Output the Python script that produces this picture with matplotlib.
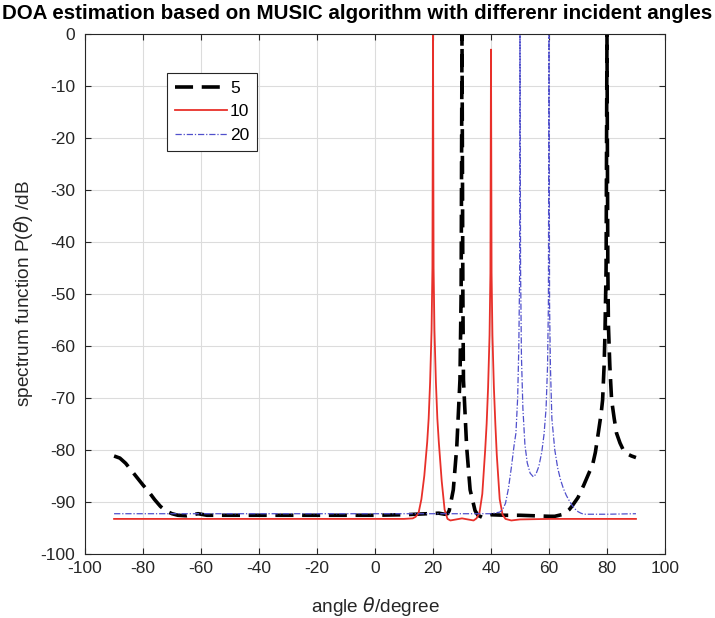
import matplotlib.pyplot as plt

plt.rcParams['font.family'] = ['Liberation Sans', 'DejaVu Sans']
plt.rcParams['mathtext.fontset'] = 'dejavusans'
plt.rcParams['axes.unicode_minus'] = False

# spectrum (angle in degree, P in dB)
ang5 = [-90, -88, -86, -84, -82, -80, -78, -76, -74, -72, -70, -68, -65, -61, -58,
        -40, -20, 0, 10, 18, 22, 24, 25, 25.6, 27, 28.2, 29.3, 29.7, 30, 30.3, 30.5,
        31.6, 32.8, 34.5, 35.5, 37, 40, 45, 50, 55, 60, 62, 65, 67, 68, 70, 72, 74, 75,
        76, 77, 78, 78.5, 79, 79.3, 79.7, 80, 80.3, 80.5, 81, 81.6, 82.5, 83.3, 84.5,
        85.6, 87, 88.5, 90]
db5 = [-81.2, -81.6, -82.6, -84.0, -85.4, -86.8, -88.1, -89.6, -90.9, -91.8, -92.3, -92.6, -92.7, -92.3, -92.6,
       -92.6, -92.6, -92.6, -92.5, -92.3, -92.2, -92.4, -92.3, -91.7, -87.7, -79.4, -66.5, -50, 0, -50, -66.5,
       -79.4, -87.7, -91.7, -92.6, -93.0, -92.5, -92.6, -92.6, -92.7, -92.8, -92.8, -92.4, -91.5, -90.8, -89.2, -86.8, -84.2, -83.0,
       -80.5, -76.8, -73, -70.4, -64, -58, -45, 0, -45, -56, -64, -70.4, -74, -76.8, -78.7,
       -80.0, -80.8, -81.2, -81.5]

ang10 = [-90, -60, -30, 0, 10, 13, 14, 15, 16, 17, 18, 18.5, 19, 19.5, 19.8, 20, 20.2,
         20.5, 21, 21.5, 22, 23, 24, 25, 26, 28, 30, 32, 34, 35, 36, 37, 38, 38.5, 39,
         39.5, 39.8, 40, 40.2, 40.5, 41, 41.5, 42, 43, 44, 45, 47, 50, 60, 90]
db10 = [-93.3, -93.3, -93.3, -93.3, -93.3, -93.2, -92.9, -92.2, -89.5, -85, -78.5, -74, -67, -57, -45, 0, -45,
        -57, -67, -74, -78.5, -86, -91.5, -93.3, -93.6, -93.4, -93.2, -93.4, -93.6, -93.2, -92.2, -88.5, -80, -75, -68,
        -58, -46, -3, -46, -58, -68, -75, -81, -89.5, -92.5, -93.3, -93.6, -93.4, -93.3, -93.3]

ang20 = [-90, -60, -30, 0, 20, 40, 43, 44, 45, 46, 47, 48, 48.6, 49.2, 49.6, 49.9, 50,
         50.2, 50.5, 51, 51.7, 52.5, 53.5, 54.6, 55.5, 56.5, 57.5, 58.3, 59, 59.5, 59.8,
         60, 60.2, 60.5, 61, 62, 63, 64, 65, 66, 67, 68, 69, 70, 71, 72, 80, 90]
db20 = [-92.3, -92.3, -92.3, -92.3, -92.3, -92.3, -92.0, -91.5, -90.3, -87.5, -83.5, -79, -76.8, -70, -60, -45, 0,
        -45, -62, -72, -79, -82.5, -84.5, -85.2, -84.7, -83.2, -80.5, -77, -72, -64, -52,
        0, -52, -64, -74, -80, -83.5, -85.8, -87.5, -88.8, -89.8, -90.7, -91.4, -91.9, -92.2, -92.4, -92.4, -92.3]

fig = plt.figure(figsize=(7.15, 6.18), dpi=100)
ax = fig.add_axes([0.119, 0.104, 0.811, 0.841])

ax.plot(ang5, db5, color='black', linestyle=(0, (5, 2.4)), linewidth=2.6, label='5')
ax.plot(ang10, db10, color='#e8302a', linestyle='-', linewidth=1.3, label='10')
ax.plot(ang20, db20, color='#5050cc', linestyle=(0, (5, 1.5, 1, 1.5)), linewidth=0.9, label='20')

ax.set_xlim(-100, 100)
ax.set_ylim(-100, 0)
ax.set_xticks(range(-100, 101, 20))
ax.set_yticks(range(-100, 1, 10))
ax.grid(True, color='#dcdcdc', linewidth=0.8)
ax.set_axisbelow(True)
ax.tick_params(direction='in', top=True, right=True, labelsize=12.5, colors='#262626', length=4)
ax.tick_params(axis='x', pad=5)
ax.tick_params(axis='y', pad=7)
for s in ax.spines.values():
    s.set_color('#262626')
    s.set_linewidth(0.8)

ax.set_xlabel(r'angle $\theta$/degree', fontsize=13.7, color='#262626', labelpad=14)
ax.set_ylabel(r'spectrum function P($\theta$) /dB', fontsize=13.7, color='#262626', labelpad=4)
fig.text(0.5, 0.978, 'DOA estimation based on MUSIC algorithm with differenr incident angles',
         ha='center', va='center', fontsize=14.8, fontweight='bold')

leg = ax.legend(loc='upper left', bbox_to_anchor=(0.142, 0.9256), borderaxespad=0,
                fontsize=12.5, handlelength=3.0, handletextpad=0.15, borderpad=0.45,
                labelspacing=0.5, fancybox=False, framealpha=1, edgecolor='#262626')
leg.get_frame().set_linewidth(0.8)

fig.savefig('out.png', dpi=100)
